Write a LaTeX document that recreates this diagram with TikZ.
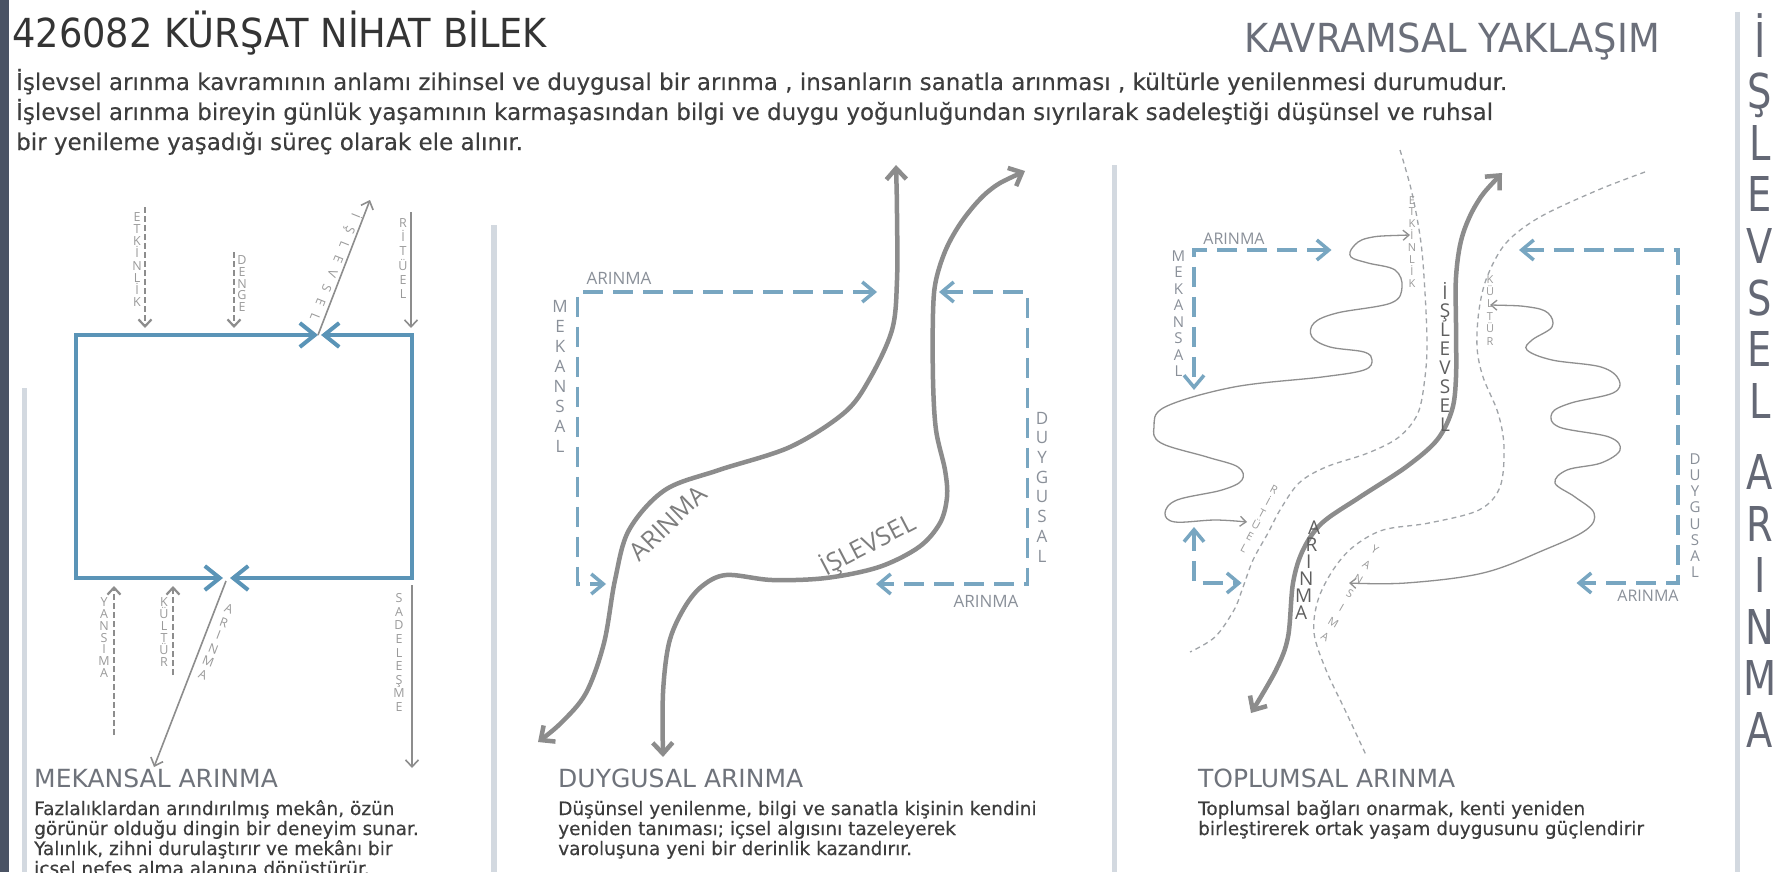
\documentclass[tikz,border=0pt]{standalone}
\usepackage{fontspec}
\setmainfont{DejaVu Sans}
\newfontfamily\tf[FakeStretch=0.92]{DejaVu Sans}
\newfontfamily\pf[FakeBold=0.35]{DejaVu Sans}
\newfontfamily\lf{Open Sans}
\newfontfamily\vf[FakeStretch=0.8]{DejaVu Sans}
\usetikzlibrary{arrows.meta,calc}
\definecolor{barcol}{HTML}{4A5364}
\definecolor{sepcol}{HTML}{D3D9E0}
\definecolor{rectblue}{HTML}{5A94B7}
\definecolor{dashblue}{HTML}{78A6C1}
\definecolor{curvegray}{HTML}{8C8C8C}
\definecolor{thingray}{HTML}{8F8F8F}
\definecolor{dashgray}{HTML}{A0A4A8}
\definecolor{inputgray}{HTML}{8D8D8D}
\definecolor{labgray}{HTML}{9A9A9A}
\definecolor{titlecol}{HTML}{343434}
\definecolor{kavcol}{HTML}{6B6F7A}
\definecolor{headcol}{HTML}{6F737B}
\definecolor{textcol}{HTML}{3D3D3D}
\definecolor{midlab}{HTML}{8A9099}
\definecolor{curvelab}{HTML}{7D7D7D}
\definecolor{darklab}{HTML}{5F5F5F}
\definecolor{vcol}{HTML}{646875}

\newcommand\letline[6]{%
  \foreach \ch [count=\i from 0] in {#6}{%
    \node[#2, name=#1\i] at ($#3!{\i/#5}!#4$) {\ch};}}

\tikzset{
  BigB/.tip={Straight Barb[length=15pt,width=24pt]},
  SmB/.tip={Straight Barb[length=7pt,width=13pt]},
  DashB/.tip={Straight Barb[length=12pt,width=20pt]},
  CurveB/.tip={Straight Barb[length=11pt,width=20pt]},
  ThinB/.tip={Straight Barb[length=6pt,width=10pt]},
  sepline/.style={draw=sepcol},
  bluebox/.style={draw=rectblue, line width=4pt, line join=miter},
  gsolid/.style={draw=inputgray, line width=1.6pt},
  gdash/.style={draw=inputgray, line width=2.2pt, dash pattern=on 6pt off 3pt},
  bdash/.style={draw=dashblue, line width=3.5pt, dash pattern=on 20pt off 10pt},
  thickcurve/.style={draw=curvegray, line width=4.5pt, line cap=round},
  thindash/.style={draw=dashgray, line width=1.3pt, dash pattern=on 5pt off 4pt},
  thinwave/.style={draw=thingray, line width=1.3pt},
  titletext/.style={inner sep=0pt, font=\tf\fontsize{40}{40}\selectfont},
  para/.style={inner sep=0pt, anchor=base west, font=\pf\fontsize{23}{23}\selectfont, text=textcol},
  head/.style={inner sep=0pt, anchor=base west, font=\fontsize{25}{25}\selectfont, text=headcol},
  body/.style={inner sep=0pt, anchor=base west, font=\pf\fontsize{18.5}{18.5}\selectfont, text=textcol},
  lsm/.style={inner sep=0pt, font=\lf\fontsize{12.5}{12.5}\selectfont, text=labgray, text height=9pt, text depth=0pt},
  mstk/.style={inner sep=0pt, font=\lf\fontsize{17}{17}\selectfont, text=midlab, text height=12pt, text depth=0pt},
  mlab/.style={inner sep=0pt, font=\lf\fontsize{17}{17}\selectfont, text=midlab},
  rlab/.style={inner sep=0pt, font=\lf\fontsize{16}{16}\selectfont, text=midlab},
  rstk/.style={inner sep=0pt, font=\lf\fontsize{15}{15}\selectfont, text=midlab, text height=11pt, text depth=0pt},
  rsm/.style={inner sep=0pt, font=\lf\fontsize{11}{11}\selectfont, text=labgray, text height=8pt, text depth=0pt},
  rbig/.style={inner sep=0pt, font=\lf\fontsize{19}{19}\selectfont, text=darklab, text height=14pt, text depth=0pt},
  clab/.style={inner sep=0pt, font=\lf\fontsize{25}{25}\selectfont, text=curvelab},
  vbig/.style={inner sep=0pt, font=\vf\fontsize{48}{48}\selectfont, text=vcol, text height=35pt, text depth=0pt},
}

\begin{document}
\begin{tikzpicture}[x=1pt,y=-1pt]
\useasboundingbox (0,0) rectangle (1776,872);
\fill[white] (0,0) rectangle (1776,872);

% frame bars and separators
\fill[barcol] (0,0) rectangle (8.5,872);
\draw[sepline, line width=4.5pt] (24.5,388) -- (24.5,872);
\draw[sepline, line width=6pt] (494,225) -- (494,872);
\draw[sepline, line width=5pt] (1114,165) -- (1114,872);
\draw[sepline, line width=5pt] (1737,12) -- (1737,872);

% header
\node[titletext, anchor=base west, text=titlecol] (title) at (12,48) {426082 KÜRŞAT NİHAT BİLEK};
\node[titletext, anchor=base east, text=kavcol] (kavram) at (1660,53) {KAVRAMSAL YAKLAŞIM};
\node[para] (p1) at (16,90) {İşlevsel arınma kavramının anlamı zihinsel ve duygusal bir arınma , insanların sanatla arınması , kültürle yenilenmesi durumudur.};
\node[para] (p2) at (16,120) {İşlevsel arınma bireyin günlük yaşamının karmaşasından bilgi ve duygu yoğunluğundan sıyrılarak sadeleştiği düşünsel ve ruhsal};
\node[para] (p3) at (16,150) {bir yenileme yaşadığı süreç olarak ele alınır.};

% ===== left panel: MEKANSAL ARINMA =====
\draw[bluebox, BigB-BigB] (318,335) -- (76,335) -- (76,578) -- (223,578);
\draw[bluebox, BigB-BigB] (321,335) -- (412,335) -- (412,578) -- (230,578);

\draw[gdash, -SmB] (145,207) -- (145,328);
\draw[gdash, -SmB] (234,252) -- (234,328);
\draw[gsolid, -SmB] (318,335) -- (370,200);
\draw[gsolid, -SmB] (411,212) -- (411,328);
\draw[gdash, -SmB] (114,735) -- (114,586);
\draw[gdash, -SmB] (173,675) -- (173,586);
\draw[gsolid, -SmB] (226,581) -- (154,767);
\draw[gsolid, -SmB] (412,585) -- (412,768);

\letline{la}{lsm}{(137,217)}{(137,302)}{7}{E,T,K,İ,N,L,İ,K}
\letline{lb}{lsm}{(242,260)}{(242,307)}{4}{D,E,N,G,E}
\letline{lc}{lsm}{(403,223)}{(403,294)}{5}{R,İ,T,Ü,E,L}
\letline{ld}{lsm}{(104,602)}{(104,673)}{6}{Y,A,N,S,I,M,A}
\letline{le}{lsm}{(164,602)}{(164,662)}{5}{K,Ü,L,T,Ü,R}
\letline{lf}{lsm}{(399,598)}{(399,707)}{8}{S,A,D,E,L,E,Ş,M,E}
\letline{lg}{lsm,rotate=-21}{(229,609)}{(203,675)}{5}{A,R,I,N,M,A}
\letline{lh}{lsm,rotate=-112}{(356,216)}{(315,317)}{7}{İ,Ş,L,E,V,S,E,L}

\node[head] (h1) at (34,787) {MEKANSAL ARINMA};
\node[body] (b11) at (34,815) {Fazlalıklardan arındırılmış mekân, özün};
\node[body] (b12) at (34,835) {görünür olduğu dingin bir deneyim sunar.};
\node[body] (b13) at (34,855) {Yalınlık, zihni durulaştırır ve mekânı bir};
\begin{scope}
\clip (0,0) rectangle (1776,872);
\node[body] (b14) at (34,875) {içsel nefes alma alanına dönüştürür.};
\end{scope}

% ===== middle panel: DUYGUSAL ARINMA =====
\draw[bdash, DashB-DashB] (877,292) -- (577.5,292) -- (577.5,584) -- (606,584);
\draw[bdash, DashB-DashB] (939,292) -- (1027.5,292) -- (1027.5,584) -- (876,584);
\node[mlab] (m1) at (619,278.5) {ARINMA};
\node[mlab] (m2) at (986,601.5) {ARINMA};
\letline{mm}{mstk}{(560,306)}{(560,446)}{7}{M,E,K,A,N,S,A,L}
\letline{md}{mstk}{(1042,418)}{(1042,556)}{7}{D,U,Y,G,U,S,A,L}

\draw[thickcurve, CurveB-CurveB] plot[smooth, tension=0.55] coordinates {
  (896,165) (897,215) (897,280) (892,330) (869,380) (844,413) (790,447)
  (719,470) (665,490) (629,530) (615,580) (604,643) (586,693) (561,723) (538,742)};
\draw[thickcurve, CurveB-CurveB] plot[smooth, tension=0.55] coordinates {
  (1025,171) (990,190) (965,217) (947,247) (936,280) (933,313) (933,380)
  (936,430) (945,470) (947,497) (940,523) (919,547) (879,567) (826,578)
  (772,580) (726,575) (701,587) (683,610) (669,643) (663,693) (663,757)};
\node[clab, rotate=44] (c1) at (668,523) {ARINMA};
\node[clab, rotate=27.5] (c2) at (868,545) {İŞLEVSEL};

\node[head] (h2) at (558,787) {DUYGUSAL ARINMA};
\node[body] (b21) at (558,815) {Düşünsel yenilenme, bilgi ve sanatla kişinin kendini};
\node[body] (b22) at (558,835) {yeniden tanıması; içsel algısını tazeleyerek};
\node[body] (b23) at (558,855) {varoluşuna yeni bir derinlik kazandırır.};

% ===== right panel: TOPLUMSAL ARINMA =====
\draw[bdash, DashB-DashB] (1331.5,250) -- (1194,250) -- (1194,390);
\draw[bdash, DashB-DashB] (1519,250) -- (1678,250) -- (1678,583) -- (1576.5,583);
\draw[bdash, DashB-DashB] (1194,527) -- (1194,583) -- (1241.6,583);
\node[rlab] (r1) at (1234,239) {ARINMA};
\node[rlab] (r2) at (1648,596) {ARINMA};
\letline{rm}{rstk}{(1178.5,256)}{(1178.5,371)}{7}{M,E,K,A,N,S,A,L}
\letline{rd}{rstk}{(1695,459)}{(1695,572)}{7}{D,U,Y,G,U,S,A,L}

% thin dashed strands
\draw[thindash] plot[smooth, tension=0.55] coordinates {
  (1400,150) (1412,193) (1421,243) (1425,293) (1427,343) (1425,377) (1418,413)
  (1399,437) (1368,453) (1326,467) (1299,483) (1280,510) (1268,533) (1253,560)
  (1242,590) (1234,610) (1215,637) (1190,652)};
\draw[thindash] plot[smooth, tension=0.55] coordinates {
  (1645,172) (1598,190) (1540,217) (1506,243) (1487,277) (1479,310) (1477,347)
  (1483,377) (1498,413) (1504,447) (1500,487) (1479,510) (1429,523) (1383,530)
  (1353,547) (1333,570) (1318,600) (1314,633) (1326,670) (1345,710) (1366,755)};

% thin wavy lines
\draw[thinwave, ThinB-ThinB] plot[smooth, tension=0.6] coordinates {
  (1410,235) (1368,238) (1353,247) (1351,257) (1368,263) (1395,270) (1402,287)
  (1391,303) (1337,313) (1314,323) (1312,337) (1330,347) (1364,352) (1372,360)
  (1364,370) (1322,377) (1234,387) (1165,407) (1154,427) (1161,443) (1207,457)
  (1238,467) (1242,480) (1222,490) (1177,500) (1165,513) (1175,522) (1215,520) (1247,522)};
\draw[thinwave, ThinB-ThinB] plot[smooth, tension=0.6] coordinates {
  (1490,305) (1529,307) (1548,313) (1552,327) (1532,340) (1527,350) (1552,360)
  (1601,367) (1619,380) (1613,393) (1571,403) (1552,413) (1559,427) (1609,437)
  (1620,450) (1601,463) (1567,470) (1555,483) (1575,497) (1594,513) (1586,530)
  (1544,550) (1483,573) (1406,583) (1349,583)};

% main thick curve
\draw[thickcurve, CurveB-CurveB] plot[smooth, tension=0.55] coordinates {
  (1502,173) (1477,203) (1462,237) (1456,277) (1456,327) (1456,377) (1452,410)
  (1437,440) (1406,467) (1360,497) (1322,523) (1303,550) (1293,583) (1288,637)
  (1276,670) (1251,713)};

\letline{re}{rsm}{(1412,200)}{(1412,283)}{7}{E,T,K,İ,N,L,İ,K}
\letline{rk}{rsm}{(1490,279)}{(1490,341)}{5}{K,Ü,L,T,Ü,R}
\letline{rr}{rsm,rotate=-28}{(1274,490)}{(1244,548)}{5}{R,İ,T,Ü,E,L}
\letline{ry}{rsm,rotate=-30}{(1375,550)}{(1325,637)}{6}{Y,A,N,S,I,M,A}
\letline{ri}{rbig}{(1445,292)}{(1445,424)}{7}{İ,Ş,L,E,V,S,E,L}
\letline{ra}{rbig}{(1314,527)}{(1301,612)}{5}{A,R,I,N,M,A}

\node[head] (h3) at (1198,787) {TOPLUMSAL ARINMA};
\node[body] (b31) at (1198,815) {Toplumsal bağları onarmak, kenti yeniden};
\node[body] (b32) at (1198,835) {birleştirerek ortak yaşam duygusunu güçlendirir};

% ===== right vertical title =====
\letline{va}{vbig}{(1760,40)}{(1760,400.5)}{7}{İ,Ş,L,E,V,S,E,L}
\letline{vb}{vbig}{(1760,472)}{(1760,729.5)}{5}{A,R,I,N,M,A}
\end{tikzpicture}
\end{document}
